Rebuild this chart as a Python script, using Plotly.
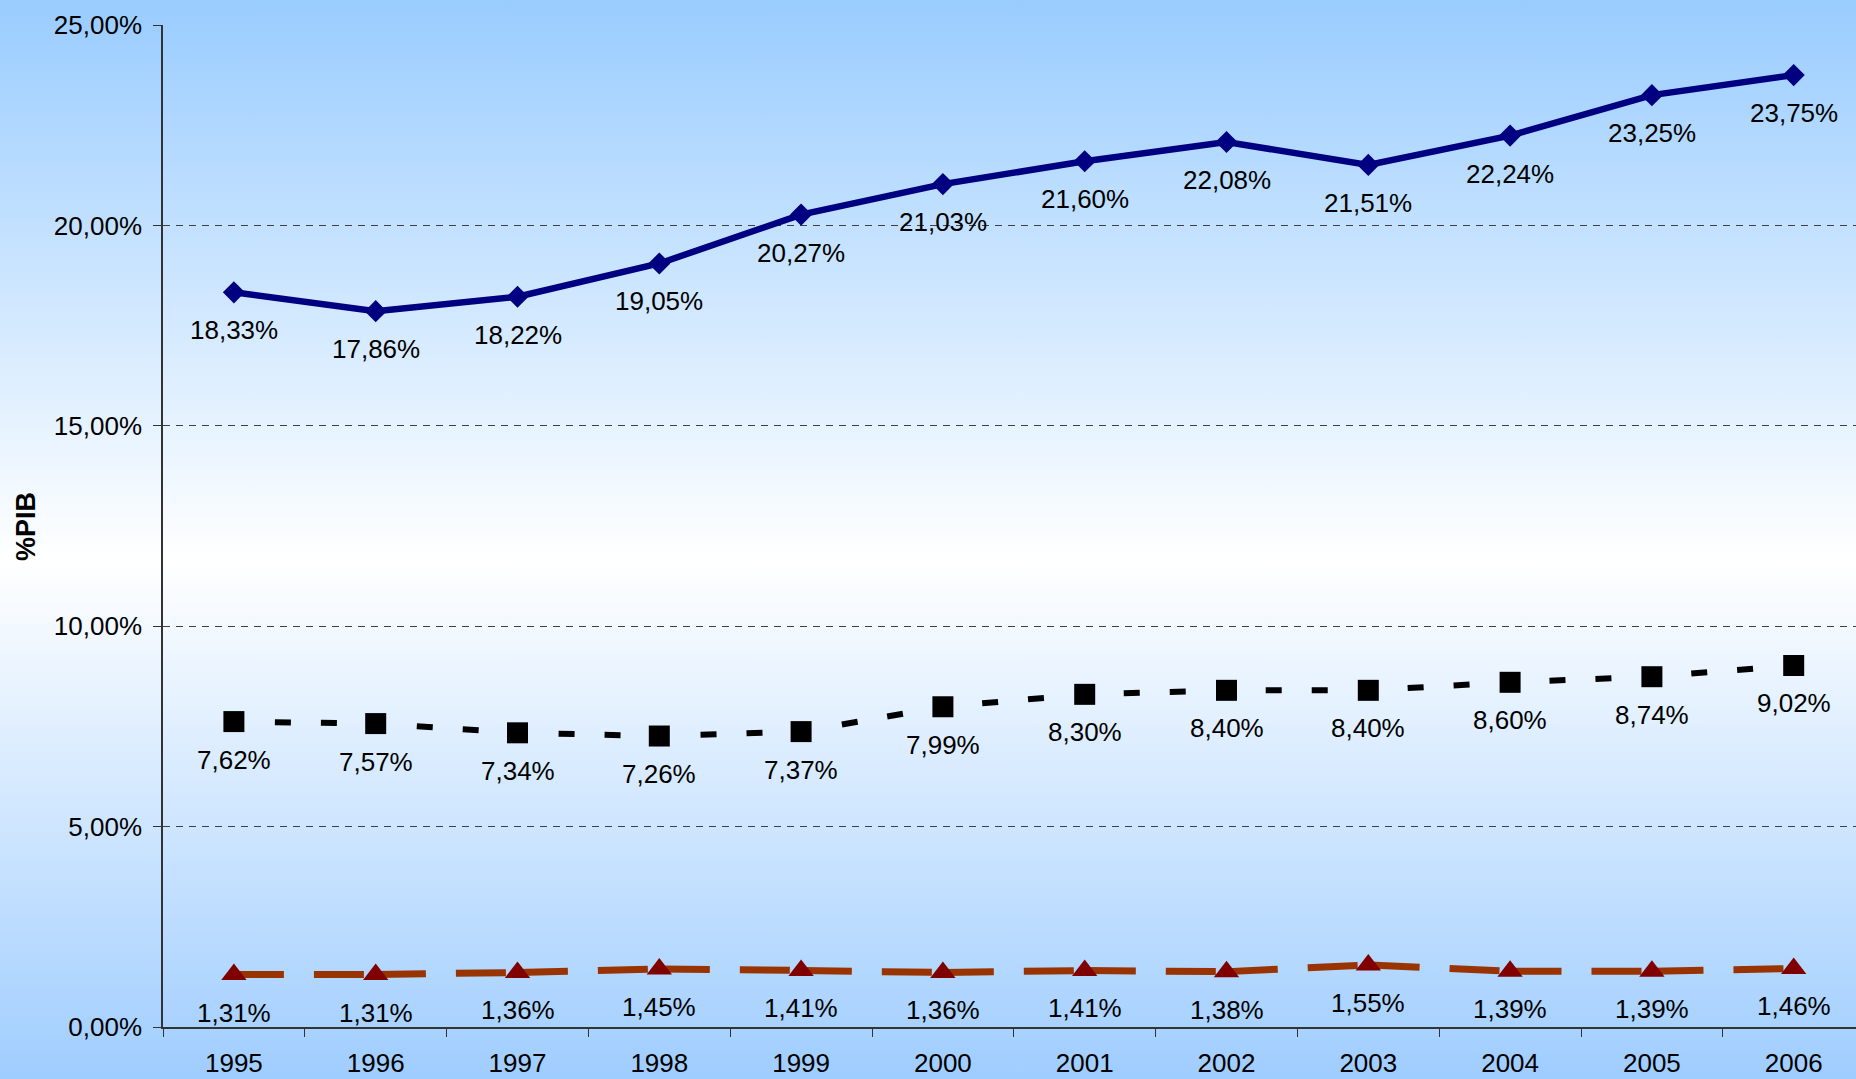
import base64
import plotly.graph_objects as go

years = ["1995", "1996", "1997", "1998", "1999", "2000", "2001", "2002", "2003", "2004", "2005", "2006"]
serie_azul = [18.33, 17.86, 18.22, 19.05, 20.27, 21.03, 21.60, 22.08, 21.51, 22.24, 23.25, 23.75]
serie_negra = [7.62, 7.57, 7.34, 7.26, 7.37, 7.99, 8.30, 8.40, 8.40, 8.60, 8.74, 9.02]
serie_roja = [1.31, 1.31, 1.36, 1.45, 1.41, 1.36, 1.41, 1.38, 1.55, 1.39, 1.39, 1.46]
y_ticks = [0, 5, 10, 15, 20, 25]

W, H = 1856, 1079
L, T, B = 163, 25, 1027
PW, PH = W - L, B - T
FONT = "Liberation Sans, Arial, Helvetica, sans-serif"
FS = 26


def fmt(v):
    return f"{v:.2f}".replace(".", ",") + "%"


fig = go.Figure()

fig.add_trace(go.Scatter(
    x=years, y=serie_azul, mode="lines+markers",
    line=dict(color="#000080", width=6.5),
    marker=dict(symbol="diamond", size=17, color="#000080"),
    showlegend=False, hoverinfo="skip"))
fig.add_trace(go.Scatter(
    x=years, y=serie_negra, mode="lines+markers",
    line=dict(color="#000000", width=6, dash="0px,41px,16px,30px,16px,39px"),
    marker=dict(symbol="square", size=21, color="#000000"),
    showlegend=False, hoverinfo="skip"))
fig.add_trace(go.Scatter(
    x=years, y=serie_roja, mode="lines+markers",
    line=dict(color="#993300", width=7, dash="50px,30px,50px,12px"),
    marker=dict(symbol="triangle-up", size=22, color="#800000"),
    showlegend=False, hoverinfo="skip"))

annotations = []
for series in (serie_azul, serie_negra, serie_roja):
    for i, v in enumerate(series):
        annotations.append(dict(x=i, y=v, xref="x", yref="y", text=fmt(v), showarrow=False,
                                yshift=-38, font=dict(size=FS, color="#000000", family=FONT)))
annotations.append(dict(xref="paper", yref="paper", x=(26 - L) / PW, y=(B - 527) / PH,
                        xanchor="center", yanchor="middle",
                        text="<b>%PIB</b>", textangle=-90, showarrow=False,
                        font=dict(size=27, color="#000000", family=FONT)))

svg = f'''<svg xmlns="http://www.w3.org/2000/svg" width="{W}" height="{H}" preserveAspectRatio="none">
<defs><linearGradient id="g" x1="0" y1="0" x2="0" y2="1">
<stop offset="0" stop-color="#99CCFF"/>
<stop offset="0.52" stop-color="#FFFFFF"/>
<stop offset="1" stop-color="#9FCDFF"/>
</linearGradient></defs>
<rect x="0" y="0" width="{W}" height="{H}" fill="url(#g)"/></svg>'''
src = "data:image/svg+xml;base64," + base64.b64encode(svg.encode()).decode()

fig.update_layout(
    width=W, height=H,
    margin=dict(l=L, r=0, t=T, b=H - B, pad=0),
    paper_bgcolor="#FFFFFF", plot_bgcolor="rgba(0,0,0,0)",
    separators=", ",
    font=dict(family=FONT, size=FS, color="#000000"),
    annotations=annotations,
    images=[dict(source=src, xref="paper", yref="paper",
                 x=-L / PW, y=B / PH, sizex=W / PW, sizey=H / PH,
                 xanchor="left", yanchor="top", sizing="stretch", layer="below")],
    xaxis=dict(type="category", range=[-0.5, -0.5 + PW / 141.8],
               showline=True, linecolor="#333333", linewidth=1.5,
               ticks="outside", ticklen=8, tickcolor="#333333", tickson="boundaries",
               showgrid=False, ticklabelstandoff=12,
               tickfont=dict(size=FS, color="#000000")),
    yaxis=dict(range=[0, 25], tickmode="array", tickvals=y_ticks,
               ticktext=[fmt(t) for t in y_ticks],
               showline=True, linecolor="#333333", linewidth=1.5,
               ticks="outside", ticklen=8, tickcolor="#333333",
               showgrid=True, gridcolor="#404040", gridwidth=1, griddash="7px,6px",
               zeroline=False, ticklabelstandoff=6,
               tickfont=dict(size=FS, color="#000000")),
)

fig.write_html("out.html", config={"displayModeBar": False},
               post_script="document.body.style.margin='0';document.body.style.overflow='hidden';")
